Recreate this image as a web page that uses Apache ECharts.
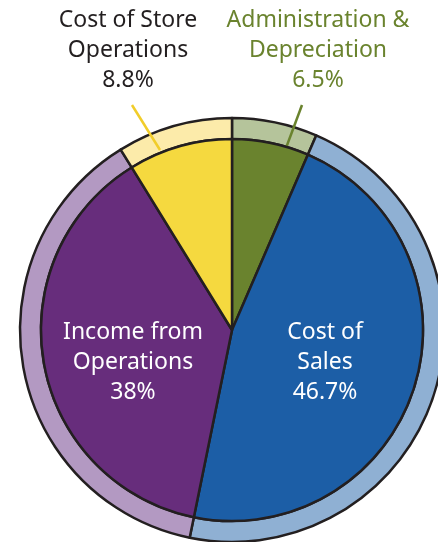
<!DOCTYPE html>
<html>
<head>
<meta charset="utf-8">
<script src="https://cdn.jsdelivr.net/npm/echarts@6/dist/echarts.min.js"></script>
<style>
  html, body { margin: 0; padding: 0; background: #fff; }
  #chart { width: 438px; height: 542px; }
</style>
</head>
<body>
<div id="chart"></div>
<script>
// slices, clockwise from 12 o'clock
const categories = ['Administration &\nDepreciation', 'Cost of\nSales', 'Income from\nOperations', 'Cost of Store\nOperations'];
const shares = [6.5, 46.7, 38, 8.8];
const shareLabels = ['6.5%', '46.7%', '38%', '8.8%'];
const darkColors = ['#6a832e', '#1c5ea6', '#672d7c', '#f5d93f'];
const lightColors = ['#b5c49b', '#8fb0d3', '#b399c2', '#fcebaa'];
// which slices get their label outside, and in what colour
const outsideText = ['#6a832e', null, null, '#231f20'];
const lineColors = ['#6a832e', null, null, '#f1cd2a'];

// label centres (and leader lines for the outside ones)
const labelPos = {
  0: { x: 318, y: 50, line: [[302, 105], [286, 148]] },
  1: { x: 325, y: 362 },
  2: { x: 133, y: 362 },
  3: { x: 128, y: 50, line: [[132, 105], [160, 150]] }
};

const chart = echarts.init(document.getElementById('chart'));
const border = '#231f20';
const center = [232, 330];

const innerData = categories.map((name, i) => {
  const item = {
    name: name,
    value: shares[i],
    itemStyle: { color: darkColors[i] }
  };
  if (outsideText[i]) {
    item.label = { position: 'outside', color: outsideText[i] };
    item.labelLine = { show: true, lineStyle: { color: lineColors[i], width: 2.5 } };
  } else {
    item.label = { position: 'inside', color: '#ffffff' };
    item.labelLine = { show: false };
  }
  return item;
});

const ringData = categories.map((name, i) => ({
  name: name,
  value: shares[i],
  itemStyle: { color: lightColors[i] }
}));

chart.setOption({
  animation: false,
  series: [
    {
      type: 'pie',
      z: 1,
      center: center,
      radius: [191, 212],
      startAngle: 90,
      clockwise: true,
      silent: true,
      data: ringData,
      label: { show: false },
      labelLine: { show: false },
      itemStyle: { borderColor: border, borderWidth: 2.5 }
    },
    {
      type: 'pie',
      z: 3,
      center: center,
      radius: [0, 191],
      startAngle: 90,
      clockwise: true,
      silent: true,
      avoidLabelOverlap: false,
      data: innerData,
      itemStyle: { borderColor: border, borderWidth: 2.5 },
      label: {
        show: true,
        fontFamily: 'Noto Sans',
        fontSize: 23,
        lineHeight: 30,
        align: 'center',
        formatter: p => p.name + '\n' + shareLabels[p.dataIndex]
      },
      labelLayout: function (params) {
        const pos = labelPos[params.dataIndex];
        const out = {
          x: pos.x,
          y: pos.y,
          align: 'center',
          verticalAlign: 'middle'
        };
        if (pos.line) out.labelLinePoints = pos.line;
        return out;
      }
    }
  ]
});
</script>
</body>
</html>
